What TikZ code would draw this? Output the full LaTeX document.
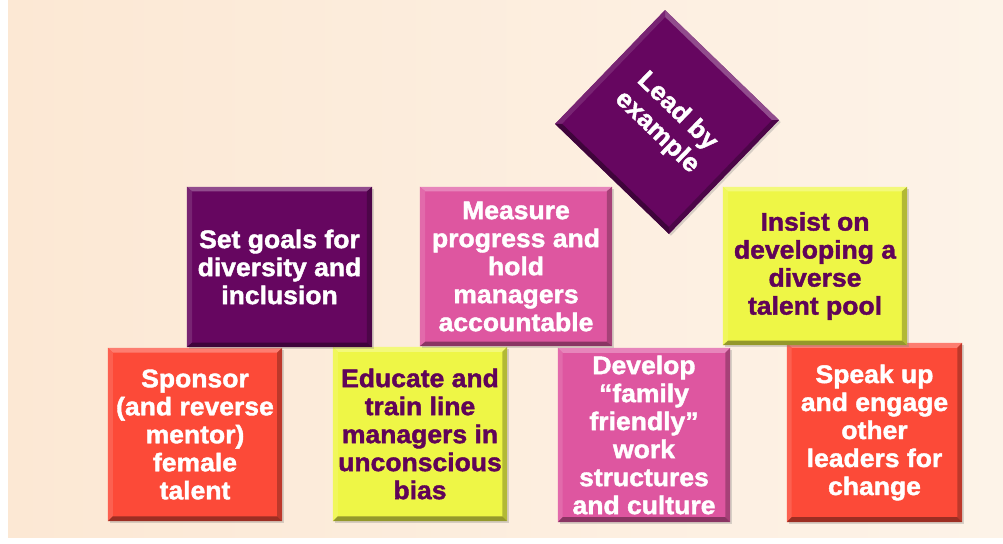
\documentclass[tikz,border=0pt]{standalone}
\usepackage{fontspec}
\setmainfont{Liberation Sans}
\newfontfamily\blockfont{Liberation Sans}[Ligatures=TeX,BoldFeatures={FakeBold=1.6,FakeStretch=1.04}]
\usetikzlibrary{calc,shadows}
\definecolor{bgL}{RGB}{252,232,212}
\definecolor{bgR}{RGB}{253,243,232}
\definecolor{cpurple}{RGB}{102,6,96}
\definecolor{cred}{RGB}{252,74,56}
\definecolor{cyellow}{RGB}{238,246,70}
\definecolor{cpink}{RGB}{222,86,160}
\definecolor{ctext}{RGB}{96,4,88}
\newcommand\bevelof[2]{%
  \fill[#2!72!white] (#1.north west) -- (#1.north east) -- ($(#1.north east)!7pt!(#1.south west)$) -- ($(#1.north west)!7pt!(#1.south east)$) -- cycle;
  \fill[#2!88!white] (#1.north west) -- (#1.south west) -- ($(#1.south west)!7pt!(#1.north east)$) -- ($(#1.north west)!7pt!(#1.south east)$) -- cycle;
  \fill[#2!75!black] (#1.north east) -- (#1.south east) -- ($(#1.south east)!7pt!(#1.north west)$) -- ($(#1.north east)!7pt!(#1.south west)$) -- cycle;
  \fill[#2!62!black] (#1.south west) -- (#1.south east) -- ($(#1.south east)!7pt!(#1.north west)$) -- ($(#1.south west)!7pt!(#1.north east)$) -- cycle;
}
\tikzset{
  block/.style={rectangle, inner sep=0pt, align=center, text=white,
    font=\blockfont\fontsize{25.5}{28}\selectfont\bfseries,
    drop shadow={opacity=0.3, shadow xshift=2pt, shadow yshift=-2pt}},
  purpleblock/.style={block, fill=cpurple},
  redblock/.style={block, fill=cred},
  pinkblock/.style={block, fill=cpink},
  yellowblock/.style={block, fill=cyellow, text=ctext},
}
\begin{document}
\begin{tikzpicture}[x=1pt,y=-1pt]
\useasboundingbox (0,0) rectangle (1003,543);
\fill[white] (0,0) rectangle (1003,543);
\shade[left color=bgL, right color=bgR] (8,0) rectangle (1003,537);

% bottom row
\node[redblock, minimum width=174pt, minimum height=173pt] (sponsor) at (195,434.5)
  {Sponsor\\(and reverse\\mentor)\\female\\talent};
\bevelof{sponsor}{cred}
\node[yellowblock, minimum width=174pt, minimum height=174pt] (educate) at (420,434)
  {Educate and\\train line\\managers in\\unconscious\\bias};
\bevelof{educate}{cyellow}
\node[pinkblock, minimum width=172pt, minimum height=174pt] (develop) at (644,435)
  {Develop\\“family\\friendly”\\work\\structures\\and culture};
\bevelof{develop}{cpink}
\node[redblock, minimum width=175pt, minimum height=179pt] (speak) at (874.5,432.5)
  {Speak up\\and engage\\other\\leaders for\\change};
\bevelof{speak}{cred}

% top row
\node[purpleblock, minimum width=185pt, minimum height=160pt] (goals) at (279.5,267)
  {Set goals for\\diversity and\\inclusion};
\bevelof{goals}{cpurple}
\node[pinkblock, minimum width=192pt, minimum height=159pt] (measure) at (516,266.5)
  {Measure\\progress and\\hold\\managers\\accountable};
\bevelof{measure}{cpink}
\node[yellowblock, minimum width=184pt, minimum height=158pt] (insist) at (815,266)
  {Insist on\\developing a\\diverse\\talent pool};
\bevelof{insist}{cyellow}

% diamond
\node[purpleblock, minimum width=158pt, minimum height=158pt, rotate=-44] (lead) at (667,122) {};
\bevelof{lead}{cpurple}
\node[rotate=-44, align=center, text=white, font=\blockfont\fontsize{25.5}{29}\selectfont\bfseries] (leadtext) at (lead.center) {Lead by\\example};
\end{tikzpicture}
\end{document}
